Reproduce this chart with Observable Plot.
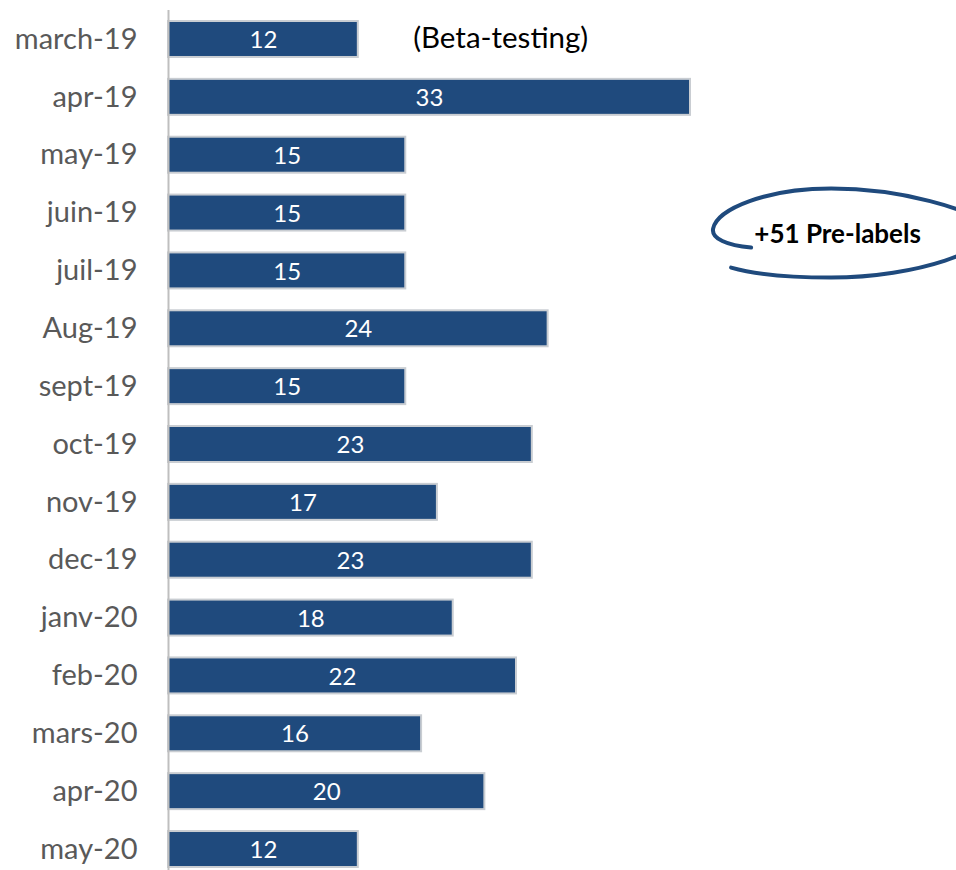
<!DOCTYPE html>
<html>
<head>
<meta charset="utf-8">
<script src="https://cdn.jsdelivr.net/npm/d3@7"></script>
<script src="https://cdn.jsdelivr.net/npm/@observablehq/plot@0.6"></script>
<style>
  html, body { margin: 0; padding: 0; background: #fff; overflow: hidden; }
  #chart svg { display: block; }
</style>
</head>
<body>
<div id="chart"></div>
<script>
const months = ["march-19","apr-19","may-19","juin-19","juil-19","Aug-19","sept-19","oct-19","nov-19","dec-19","janv-20","feb-20","mars-20","apr-20","may-20"];
const counts = [12,33,15,15,15,24,15,23,17,23,18,22,16,20,12];
const betaNote = [{text: "(Beta-testing)", x: 21, month: "march-19"}];
const preNote = [{text: "+51 Pre-labels", x: 42.3, month: "juin-19"}];

const data = months.map((m, i) => ({month: m, value: counts[i]}));
const barColor = "#1F4A7D";
const font = "Lato, 'Open Sans', sans-serif";

// hand-drawn-looking ellipse around the "+51 Pre-labels" note
function swoosh(index, scales) {
  const a = preNote[0];
  const ys = scales.y;
  const bw = typeof ys.bandwidth === "function" ? ys.bandwidth() : (ys.bandwidth || 0);
  const cx = scales.x(a.x);
  const cy = ys(a.month) + bw / 2 + 21;
  const p = d3.path();
  p.moveTo(cx - 86, cy + 14);
  p.bezierCurveTo(cx - 110, cy + 12, cx - 126, cy + 5, cx - 124, cy - 5);
  p.bezierCurveTo(cx - 120, cy - 25, cx - 70, cy - 45, cx - 6, cy - 45);
  p.bezierCurveTo(cx + 60, cy - 45, cx + 140, cy - 25, cx + 150, cy - 5);
  p.bezierCurveTo(cx + 160, cy + 15, cx + 80, cy + 44, cx - 6, cy + 44);
  p.bezierCurveTo(cx - 50, cy + 44, cx - 85, cy + 40, cx - 106, cy + 34);
  const g = d3.create("svg:g");
  g.append("path")
    .attr("d", p.toString())
    .attr("fill", "none")
    .attr("stroke", barColor)
    .attr("stroke-width", 4)
    .attr("stroke-linecap", "round");
  return g.node();
}

const chart = Plot.plot({
  width: 956,
  height: 870,
  marginLeft: 168,
  marginRight: 266,
  marginTop: 21,
  marginBottom: 3,
  style: {fontFamily: font, background: "#fff", overflow: "visible"},
  x: {domain: [0, 33], axis: null},
  y: {domain: months, paddingInner: 0.378, paddingOuter: 0, round: false, label: null, axis: null},
  marks: [
    Plot.barX(data, {x: "value", y: "month", fill: barColor, stroke: "#C9CDD2", strokeWidth: 2}),
    Plot.ruleX([0], {stroke: "#BFBFBF", strokeWidth: 2, insetTop: -11, insetBottom: -3}),
    Plot.text(data, {x: d => d.value / 2, y: "month", text: d => String(d.value),
      fill: "white", fontSize: 24, dy: 1}),
    Plot.axisY({tickSize: 0, tickPadding: 31, fontSize: 29, fill: "#595959", label: null}),
    Plot.text(betaNote, {x: "x", y: "month", text: "text", fontSize: 29.5, fill: "black", dy: -1}),
    Plot.text(preNote, {x: "x", y: "month", text: "text", fontSize: 26, fontWeight: "bold", fill: "black", dy: 22}),
    swoosh
  ]
});
document.getElementById("chart").appendChild(chart);
</script>
</body>
</html>
